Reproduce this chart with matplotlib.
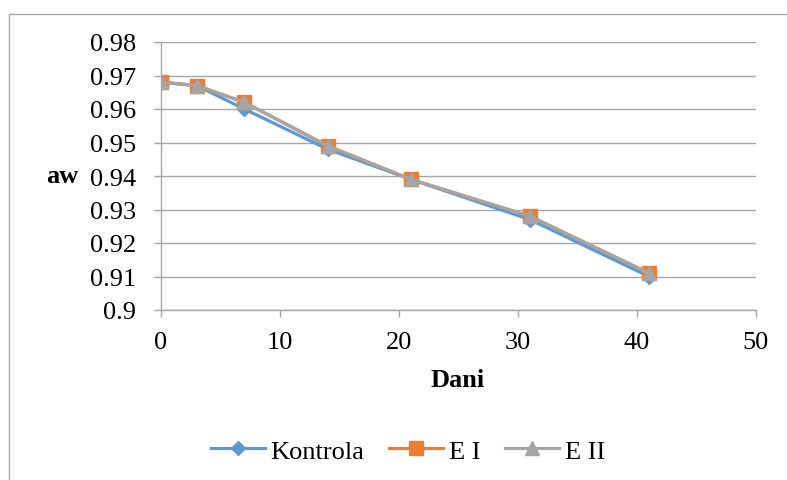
import matplotlib.pyplot as plt
from matplotlib.patches import Rectangle

# podaci
dani = [0, 3, 7, 14, 21, 31, 41]
kontrola = [0.968, 0.967, 0.960, 0.948, 0.939, 0.927, 0.910]
e1 = [0.968, 0.967, 0.962, 0.949, 0.939, 0.928, 0.911]
e2 = [0.968, 0.967, 0.962, 0.949, 0.939, 0.928, 0.911]

plt.rcParams['font.family'] = ['Liberation Serif', 'DejaVu Serif']

fig = plt.figure(figsize=(7.87, 4.81), dpi=100)
ax = fig.add_axes([161 / 787, 1 - 311 / 481, (756 - 161) / 787, (311 - 43) / 481])

# okvir oko grafikona
fig.patches.append(Rectangle((9 / 787, -0.1), 1.2, 1.1 - 15 / 481, transform=fig.transFigure,
                             fill=False, edgecolor='#A6A6A6', linewidth=1.0, clip_on=False))

ax.plot(dani, kontrola, color='#5B9BD5', lw=2.3, marker='D', ms=7.5, label='Kontrola', zorder=3)
ax.plot(dani, e1, color='#ED7D31', lw=2.3, marker='s', ms=9.5, label='E I', zorder=4)
ax.plot(dani, e2, color='#A5A5A5', lw=2.3, marker='^', ms=9.5, label='E II', zorder=5)

ax.set_xlim(0, 50)
ax.set_ylim(0.9, 0.98)
ax.set_xticks([0, 10, 20, 30, 40, 50])
ax.set_yticks([0.9, 0.91, 0.92, 0.93, 0.94, 0.95, 0.96, 0.97, 0.98])
ax.set_yticklabels(['0.9', '0.91', '0.92', '0.93', '0.94', '0.95', '0.96', '0.97', '0.98'])
ax.grid(axis='y', color='#A6A6A6', lw=1.0)
ax.set_axisbelow(True)
for s in ['top', 'right']:
    ax.spines[s].set_visible(False)
for s in ['left', 'bottom']:
    ax.spines[s].set_color('#A6A6A6')
    ax.spines[s].set_linewidth(1.0)
ax.tick_params(axis='both', colors='#A6A6A6', labelcolor='black', labelsize=19, length=5, width=1.0)
ax.tick_params(axis='x', pad=10)
ax.tick_params(axis='y', pad=13)

ax.set_xlabel('Dani', fontsize=19, fontweight='bold', va='center', ha='center')
ax.xaxis.set_label_coords(0.499, -0.261)
ax.set_ylabel('aw', fontsize=19, fontweight='bold', rotation=0, va='center', ha='center')
ax.yaxis.set_label_coords(-0.166, 0.5)

ax.legend(loc='center', bbox_to_anchor=(0.415, -0.526), ncol=3, frameon=False,
          fontsize=19, handlelength=2.05, handletextpad=0.2, columnspacing=0.95)

plt.savefig('out.png', dpi=100)
